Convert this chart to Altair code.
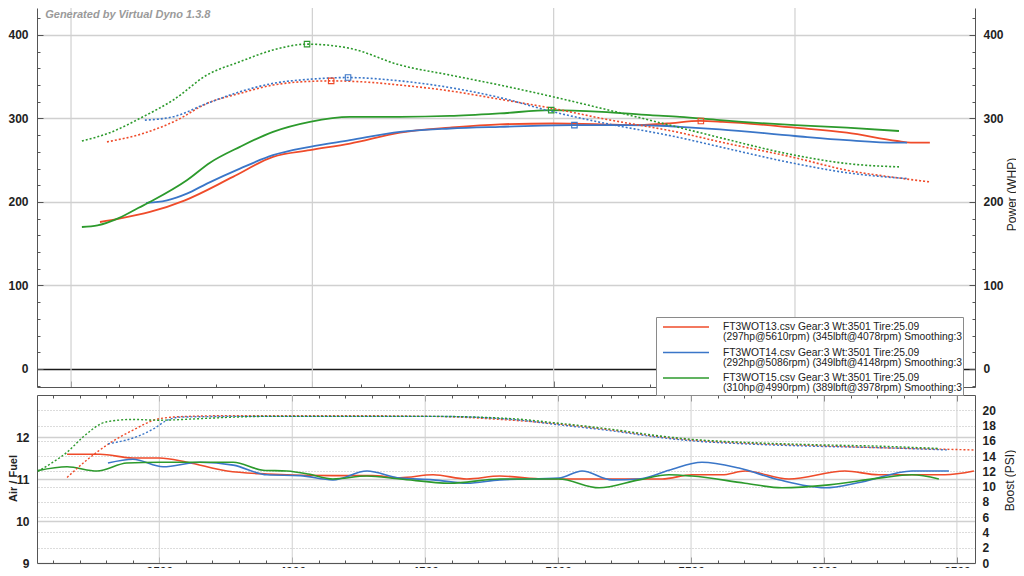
import altair as alt
import pandas as pd

FONT = "Liberation Sans"
GEN_TEXT = "Generated by Virtual Dyno 1.3.8"
SERIES = [
    "FT3WOT13.csv Gear:3 Wt:3501 Tire:25.09|(297hp@5610rpm) (345lbft@4078rpm) Smoothing:3",
    "FT3WOT14.csv Gear:3 Wt:3501 Tire:25.09|(292hp@5086rpm) (349lbft@4148rpm) Smoothing:3",
    "FT3WOT15.csv Gear:3 Wt:3501 Tire:25.09|(310hp@4990rpm) (389lbft@3978rpm) Smoothing:3",
]
COLORS = ["#ef4b2a", "#3a76c8", "#2c9a2c"]

# ---- power (WHP) ----
HP_RPM_13 = [3120, 3200, 3327, 3472, 3671, 3837, 3990, 4156, 4363, 4570, 4777, 4997, 5200, 5329, 5470, 5606, 5700, 6000, 6215, 6423, 6480, 6559]
HP_13 = [176, 180, 188, 202, 230, 254, 262, 270, 283, 289, 293, 294, 293, 292, 294, 297, 296, 289, 283, 273, 271, 271]
HP_RPM_14 = [3311, 3360, 3398, 3480, 3563, 3700, 3837, 3990, 4156, 4363, 4570, 4777, 5080, 5300, 5470, 5523, 5689, 6000, 6215, 6423, 6464]
HP_14 = [199, 200, 202, 210, 222, 240, 256, 266, 274, 284, 288, 290, 292, 292, 291, 290, 287, 279, 274, 271, 271]
HP_RPM_15 = [3045, 3110, 3200, 3280, 3340, 3480, 3576, 3700, 3837, 3990, 4156, 4363, 4570, 4777, 4990, 5200, 5400, 5523, 5689, 6000, 6215, 6431]
HP_15 = [170, 172, 181, 193, 202, 226, 247, 266, 284, 296, 302, 302, 303, 306, 310, 308, 304, 302, 298, 292, 289, 285]

# ---- torque (lbft) ----
TQ_RPM_13 = [3149, 3298, 3439, 3563, 3700, 3837, 3960, 4078, 4200, 4363, 4570, 4777, 4997, 5200, 5523, 5689, 6000, 6215, 6423, 6559]
TQ_13 = [272, 282, 298, 318, 330, 340, 344, 345, 344, 340, 333, 323, 312, 300, 283, 272, 253, 238, 229, 224]
TQ_RPM_14 = [3306, 3423, 3563, 3700, 3837, 3990, 4148, 4363, 4570, 4777, 4997, 5200, 5523, 5689, 6000, 6215, 6464]
TQ_14 = [298, 302, 318, 332, 342, 347, 349, 345, 337, 325, 308, 295, 277, 266, 246, 235, 228]
TQ_RPM_15 = [3045, 3161, 3298, 3423, 3563, 3700, 3837, 3978, 4156, 4363, 4570, 4777, 4997, 5200, 5523, 5689, 6000, 6215, 6431]
TQ_15 = [273, 283, 302, 322, 352, 368, 382, 389, 384, 364, 352, 340, 326, 312, 289, 277, 256, 246, 242]

# ---- peak markers ----
PEAK_HP_RPM = [5610, 5086, 4990]
PEAK_HP = [297, 292, 310]
PEAK_TQ_RPM = [4078, 4148, 3978]
PEAK_TQ = [345, 349, 389]

# ---- air / fuel ----
AF_RPM_13 = [3153, 3277, 3401, 3500, 3604, 3755, 3905, 4153, 4300, 4405, 4530, 4657, 4781, 4950, 5203, 5391, 5503, 5616, 5703, 5868, 6079, 6206, 6455, 6564]
AF_13 = [11.59, 11.59, 11.50, 11.50, 11.40, 11.19, 11.12, 11.08, 11.08, 11.03, 11.10, 11.00, 11.07, 11.00, 11.00, 11.00, 11.10, 11.10, 11.19, 11.00, 11.19, 11.10, 11.10, 11.19]
AF_RPM_14 = [3307, 3401, 3514, 3653, 3778, 3905, 4030, 4153, 4281, 4405, 4530, 4657, 4781, 5003, 5090, 5203, 5304, 5417, 5541, 5680, 5830, 6003, 6143, 6331, 6470]
AF_14 = [11.38, 11.47, 11.29, 11.40, 11.33, 11.10, 11.08, 10.98, 11.19, 11.02, 10.98, 10.90, 10.98, 11.02, 11.19, 10.98, 11.00, 11.21, 11.40, 11.26, 10.98, 10.79, 10.93, 11.19, 11.19]
AF_RPM_15 = [3043, 3153, 3266, 3378, 3500, 3650, 3778, 3890, 3980, 4060, 4153, 4281, 4405, 4593, 4781, 5003, 5154, 5304, 5417, 5503, 5703, 5842, 6019, 6206, 6331, 6432]
AF_15 = [11.20, 11.29, 11.19, 11.38, 11.40, 11.40, 11.40, 11.21, 11.19, 11.12, 11.00, 11.07, 11.00, 10.90, 11.00, 11.00, 10.79, 10.98, 11.10, 11.07, 10.90, 10.79, 10.86, 11.02, 11.10, 11.00]

# ---- boost (PSI) ----
BST_RPM_13 = [3153, 3228, 3314, 3401, 3500, 3604, 3800, 4153, 4530, 4826, 5003, 5203, 5391, 5503, 5703, 5955, 6206, 6455, 6564]
BST_13 = [11.2, 13.5, 15.7, 17.4, 18.9, 19.2, 19.3, 19.3, 19.2, 18.7, 18.2, 17.4, 16.5, 16.1, 15.7, 15.4, 15.1, 14.9, 14.8]
BST_RPM_14 = [3307, 3420, 3480, 3530, 3580, 3800, 4153, 4530, 4826, 5003, 5203, 5391, 5503, 5703, 5955, 6206, 6470]
BST_14 = [15.6, 16.6, 17.6, 18.7, 19.1, 19.2, 19.2, 19.2, 18.8, 18.1, 17.3, 16.4, 16.0, 15.6, 15.3, 15.1, 14.8]
BST_RPM_15 = [3043, 3100, 3153, 3213, 3303, 3401, 3500, 3650, 3778, 3905, 4153, 4530, 4826, 5003, 5203, 5391, 5503, 5703, 5955, 6206, 6432]
BST_15 = [12.0, 13.2, 14.5, 16.5, 18.5, 18.8, 18.7, 18.9, 19.1, 19.2, 19.2, 19.2, 18.9, 18.3, 17.5, 16.6, 16.2, 15.8, 15.5, 15.3, 15.0]

# ---- axes: ticks / grid ----
TOP_GRID_RPM = [3000, 4000, 5000, 6000]
TOP_X_TICKS = list(range(3000, 6601, 200))
TOP_Y_TICKS = list(range(-20, 421, 20))
BOT_GRID_RPM = [3500, 4000, 4500, 5000, 5500, 6000, 6500]
BOT_X_TICKS = list(range(3100, 6501, 100))
AF_TICKS = [9, 10, 11, 12]
BOOST_TICKS = list(range(0, 21, 2))

XT_DOM = [2859, 6746]
YT_DOM = [-21.6, 432.3]
XB_DOM = [3040, 6568]
AF_DOM = [9, 13]
BOOST_DOM = [0, 22]

W, H = 938, 555
TOP_H = 379
BOT_TOP = 387


def long_df(parts, name):
    rows = []
    for s, (xs, ys) in zip(SERIES, parts):
        rows += [{"series": s, "rpm": x, name: y} for x, y in zip(xs, ys)]
    return pd.DataFrame(rows)


hp_df = long_df([(HP_RPM_13, HP_13), (HP_RPM_14, HP_14), (HP_RPM_15, HP_15)], "val")
tq_df = long_df([(TQ_RPM_13, TQ_13), (TQ_RPM_14, TQ_14), (TQ_RPM_15, TQ_15)], "val")
af_df = long_df([(AF_RPM_13, AF_13), (AF_RPM_14, AF_14), (AF_RPM_15, AF_15)], "val")
bst_df = long_df([(BST_RPM_13, BST_13), (BST_RPM_14, BST_14), (BST_RPM_15, BST_15)], "val")
pk_hp_df = pd.DataFrame({"series": SERIES, "rpm": PEAK_HP_RPM, "val": PEAK_HP})
pk_tq_df = pd.DataFrame({"series": SERIES, "rpm": PEAK_TQ_RPM, "val": PEAK_TQ})


def sc(dom, rng=None):
    kw = dict(domain=dom, nice=False, zero=False)
    if rng:
        kw["range"] = rng
    return alt.Scale(**kw)


XT = sc(XT_DOM)
XB = sc(XB_DOM)
YT = sc(YT_DOM, [TOP_H, 0])
YAF = sc(AF_DOM, [H, BOT_TOP])
YBS = sc(BOOST_DOM, [H, BOT_TOP])

AXC = "#555555"
GRID = "#d0d0d0"
LAB = dict(labelFont=FONT, labelFontSize=12, labelFontWeight="bold", labelColor="#222222", format="d")
TIT = dict(titleFont=FONT, titleColor="#222222", titleAngle=270,
           titleBaseline="alphabetic", titleAlign="center")


def cond(test, a, b):
    return {"condition": {"test": test, "value": a}, "value": b}


lab100 = "datum.value % 100 === 0 ? datum.label : ''"

ax_top_x = alt.Axis(orient="top", offset=-TOP_H, values=TOP_X_TICKS, labels=False, grid=False, title=None,
                    domainColor=AXC, tickColor=AXC, tickSize=cond("datum.value % 1000 === 0", 6, 3))
ax_top_left = alt.Axis(orient="left", values=TOP_Y_TICKS, labelExpr=lab100, ticks=False, labelPadding=9,
                       domainColor=AXC, title=None, grid=True,
                       gridColor=cond("datum.value === 0", "#1a1a1a", GRID),
                       gridOpacity=cond("datum.value % 100 === 0", 1, 0), gridWidth=1.3, **LAB)
ax_top_right = alt.Axis(orient="right", values=TOP_Y_TICKS, labelExpr=lab100, ticks=False, labelPadding=8,
                        domainColor=AXC, grid=False, title="Power (WHP)", titleX=40, titleY=186,
                        titleFontSize=12, titleFontWeight="normal", **TIT, **LAB)
ax_tl_ticks = alt.Axis(orient="right", offset=-W, values=TOP_Y_TICKS, labels=False, domain=False, grid=False,
                       title=None, tickColor=AXC, tickSize=cond("datum.value % 100 === 0", 6, 3))
ax_tr_ticks = alt.Axis(orient="left", offset=-W, values=TOP_Y_TICKS, labels=False, domain=False, grid=False,
                       title=None, tickColor=AXC, tickSize=cond("datum.value % 100 === 0", 6, 3))

ax_bot_x = alt.Axis(orient="bottom", values=BOT_GRID_RPM, ticks=False, labelPadding=3, domainColor=AXC,
                    grid=False, title=None, **LAB)
ax_bot_top = alt.Axis(orient="bottom", offset=-(H - BOT_TOP), values=BOT_X_TICKS, labels=False, grid=False,
                      title=None, domainColor=AXC, tickColor=AXC,
                      tickSize=cond("datum.value % 500 === 0", 6, 3))
ax_bot_ticks = alt.Axis(orient="top", offset=-H, values=BOT_X_TICKS, labels=False, domain=False, grid=False,
                        title=None, tickColor=AXC, tickSize=cond("datum.value % 500 === 0", 6, 3))
ax_af = alt.Axis(orient="left", values=AF_TICKS, ticks=False, labelPadding=8, domainColor=AXC, grid=True,
                 gridColor=GRID, gridWidth=1.3, title="Air / Fuel", titleX=-21, titleY=470,
                 titleFontSize=11, titleFontWeight="bold", **TIT, **LAB)
ax_boost = alt.Axis(orient="right", values=BOOST_TICKS, ticks=False, labelPadding=7, domainColor=AXC,
                    grid=True, gridDash=[1, 2], gridColor="#b8b8b8", gridWidth=1,
                    gridOpacity=cond("datum.value > 0", 1, 0), title="Boost (PSI)", titleX=38, titleY=472,
                    titleFontSize=12, titleFontWeight="normal", **TIT, **LAB)

LEG = alt.Legend(orient="none", legendX=619, legendY=309, title=None, direction="vertical",
                 symbolType="stroke", symbolSize=2116, symbolStrokeWidth=1.6, symbolOffset=5,
                 labelExpr="split(datum.label, '|')", labelFont=FONT, labelFontSize=10.3,
                 labelColor="#222222", labelLimit=400, labelOffset=13, padding=1, clipHeight=18,
                 rowPadding=0.5, strokeColor="#8a8a8a", fillColor="white")

color = alt.Color("series:N", scale=alt.Scale(domain=SERIES, range=COLORS), legend=LEG)

top_vgrid = alt.Chart(pd.DataFrame({"rpm": TOP_GRID_RPM})).mark_rule(color=GRID, strokeWidth=1.2).encode(
    x=alt.X("rpm:Q", scale=XT, axis=ax_top_x),
    y=alt.YDatum(YT_DOM[0], type="quantitative", scale=YT, axis=None),
    y2=alt.Y2Datum(YT_DOM[1]),
)
bot_vgrid = alt.Chart(pd.DataFrame({"rpm": BOT_GRID_RPM})).mark_rule(color=GRID, strokeWidth=1).encode(
    x=alt.X("rpm:Q", scale=XB, axis=ax_bot_x),
    y=alt.YDatum(AF_DOM[0], type="quantitative", scale=YAF, axis=None),
    y2=alt.Y2Datum(AF_DOM[1]),
)
power = alt.Chart(hp_df).mark_line(strokeWidth=1.8, interpolate="monotone").encode(
    x=alt.X("rpm:Q", scale=XT, axis=None),
    y=alt.Y("val:Q", scale=YT, axis=ax_top_right),
    color=color,
)
torque = alt.Chart(tq_df).mark_line(strokeWidth=1.6, strokeDash=[2, 2], interpolate="monotone").encode(
    x=alt.X("rpm:Q", scale=XT, axis=None),
    y=alt.Y("val:Q", scale=YT, axis=ax_top_left),
    color=color,
)
af = alt.Chart(af_df).mark_line(strokeWidth=1.6, interpolate="monotone").encode(
    x=alt.X("rpm:Q", scale=XB, axis=ax_bot_top),
    y=alt.Y("val:Q", scale=YAF, axis=ax_af),
    color=color,
)
boost = alt.Chart(bst_df).mark_line(strokeWidth=1.4, strokeDash=[2, 2], interpolate="monotone").encode(
    x=alt.X("rpm:Q", scale=XB, axis=ax_bot_ticks),
    y=alt.Y("val:Q", scale=YBS, axis=ax_boost),
    color=color,
)
mk_hp = alt.Chart(pk_hp_df).mark_point(shape="square", filled=False, size=30, strokeWidth=1.1, opacity=1).encode(
    x=alt.X("rpm:Q", scale=XT, axis=None),
    y=alt.Y("val:Q", scale=YT, axis=ax_tl_ticks),
    color=color,
)
mk_tq = alt.Chart(pk_tq_df).mark_point(shape="square", filled=False, size=30, strokeWidth=1.1, opacity=1).encode(
    x=alt.X("rpm:Q", scale=XT, axis=None),
    y=alt.Y("val:Q", scale=YT, axis=ax_tr_ticks),
    color=color,
)
gen = alt.Chart(pd.DataFrame({"t": [GEN_TEXT]})).mark_text(
    align="left", baseline="top", font=FONT, fontSize=11, fontStyle="italic", fontWeight="bold",
    color="#9a9a9a").encode(
    x=alt.XDatum(2893, type="quantitative", scale=XT, axis=None),
    y=alt.YDatum(431.5, type="quantitative", scale=YT, axis=None),
    text="t:N",
)

chart = (
    alt.layer(top_vgrid, bot_vgrid, power, torque, af, boost, mk_hp, mk_tq, gen)
    .resolve_scale(x="independent", y="independent")
    .resolve_axis(x="independent", y="independent")
    .properties(width=W, height=H, autosize=alt.AutoSizeParams(type="none"),
                padding={"left": 29, "top": 0, "right": 41, "bottom": 5})
    .configure(font=FONT, style={"guide-label": {"lineHeight": 10.4}})
    .configure_view(stroke=None)
)

chart.save("out.html", embed_options={"renderer": "svg", "actions": False})
